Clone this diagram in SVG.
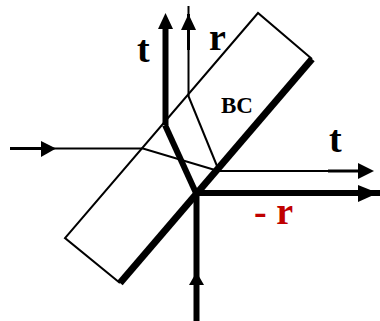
<svg xmlns="http://www.w3.org/2000/svg" width="380" height="321" viewBox="0 0 380 321">
<style>
.thin{fill:none;stroke:#000;stroke-width:2}
.mid{fill:none;stroke:#000;stroke-width:3}
.thick{fill:none;stroke:#000;stroke-width:6}
.lbl{font-family:"Liberation Serif","Times New Roman",serif;font-weight:bold;fill:#000}
.big{font-size:38px}
.head{fill:#000;stroke:none}
</style>
<rect width="380" height="321" fill="#fff"/>
<g id="connectors">
<path class="thick" d="M165.500 125V28"/>
<polygon class="head" points="165.500,13 173,29 158,29"/>
<path class="thin" d="M188.500 6V96"/>
<path class="mid" d="M188.500 14V50"/>
<polygon class="head" points="188.500,14 196,30 181,30"/>
<path class="thick" d="M165 125L196 193"/>
<path class="thin" d="M188 95L217 166"/>
<path class="mid" d="M10 148.500H42"/>
<path class="thin" d="M42 148.500H143L215 170"/>
<polygon class="head" points="56,148.500 41,141 41,157"/>
<path class="thin" d="M218 171H330"/>
<path class="mid" d="M328 171H360"/>
<polygon class="head" points="374,171 358,163 358,179"/>
<path class="thick" d="M196 193H380"/>
<polygon class="head" points="378,193 358,185 358,202"/>
<path class="thick" d="M196.500 193V321"/>
<polygon class="head" points="196.500,272 204,285 189,285"/>
</g>
<g id="prism">
<path class="thin" d="M120 283L65 238L258 13L312 59"/>
<path d="M312 59L120 283" fill="none" stroke="#000" stroke-width="7"/>
</g>
<g id="label-t1"><text class="lbl big" x="137" y="62">t</text></g>
<g id="label-r"><text class="lbl big" x="209" y="50">r</text></g>
<g id="label-bc"><text class="lbl" x="221" y="113" font-size="23">BC</text></g>
<g id="label-t2"><text class="lbl big" x="329" y="152">t</text></g>
<g id="label-minus-r"><text class="lbl big" x="254" y="224" style="fill:#c00000">- r</text></g>
</svg>
